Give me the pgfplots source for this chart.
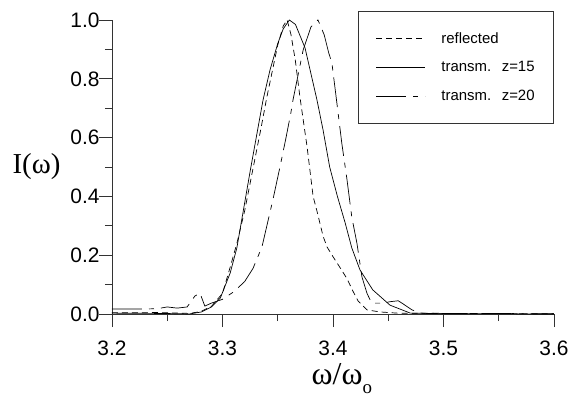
\documentclass[border=0pt]{standalone}
\usepackage{fontspec}
\setmainfont{Liberation Sans}
\newfontfamily\serif{Liberation Serif}
\usepackage{pgfplots}
\pgfplotsset{compat=1.18}
\begin{document}
\begin{tikzpicture}[x=1bp,y=1bp]
\begin{axis}[
  at={(0bp,0bp)}, anchor=south west,
  scale only axis, width=442bp, height=294bp,
  xmin=3.2, xmax=3.6, ymin=0, ymax=1.0,
  axis x line*=bottom, axis y line*=left,
  axis line style={line width=0.8bp, black!80},
  tick align=outside,
  major tick length=13bp, minor tick length=7bp,
  every tick/.style={line width=0.8bp, black!80},
  xtick={3.2,3.3,3.4,3.5,3.6}, ytick={0,0.2,0.4,0.6,0.8,1.0},
  minor x tick num=1, minor y tick num=1,
  /pgf/number format/assume math mode=true,
  /pgf/number format/.cd, fixed, fixed zerofill, precision=1, /pgfplots/.cd,
  tick label style={font=\fontsize{21}{23}\selectfont},
  yticklabel style={anchor=east, xshift=4bp},
  xticklabel style={anchor=north, yshift=-12bp, inner sep=2bp},
  xlabel={\serif ω/ω\raisebox{-0.3em}{\fontsize{19}{20}\selectfont o}},
  ylabel={\serif I(ω)},
  x label style={font=\fontsize{32}{34}\selectfont, inner sep=0pt, at={(axis description cs:0.52,0)}, anchor=north, yshift=-49bp},
  y label style={font=\fontsize{29}{32}\selectfont, rotate=-90, at={(axis description cs:0,0.5)}, anchor=west, xshift=-103bp},
  legend style={at={(axis description cs:1,1)}, anchor=north east, yshift=9bp,
    draw=black!80, line width=0.8bp, font=\fontsize{15}{17}\selectfont,
    inner xsep=17bp, inner ysep=19bp, row sep=13bp, column sep=14bp},
  legend cell align=left,
  legend image code/.code={\draw[#1, line width=0.7bp] (0bp,0bp) -- (49bp,0bp);},
]
\addplot[black, line width=0.7bp, dash pattern=on 6bp off 4bp] coordinates {
(3.200,0.004) (3.220,0.004) (3.240,0.005) (3.260,0.003) (3.270,0.002)
(3.280,0.008) (3.290,0.026) (3.300,0.070) (3.307,0.160) (3.313,0.240)
(3.320,0.350) (3.325,0.445) (3.330,0.540) (3.335,0.635) (3.340,0.735)
(3.345,0.825) (3.350,0.915) (3.355,0.980) (3.3585,1.000) (3.362,0.950)
(3.366,0.860) (3.370,0.740) (3.3765,0.570) (3.382,0.400) (3.3855,0.350)
(3.391,0.265) (3.3946,0.228) (3.400,0.195) (3.406,0.160) (3.4127,0.120)
(3.418,0.078) (3.4226,0.045) (3.4308,0.014) (3.4425,0.007) (3.458,0.003)
(3.500,0.002) (3.600,0.001)};
\addlegendentry{reflected}
\addplot[black, line width=0.7bp] coordinates {
(3.200,0.003) (3.240,0.002) (3.260,0.001) (3.270,0.000) (3.281,0.007)
(3.290,0.024) (3.298,0.054) (3.307,0.140) (3.313,0.225) (3.319,0.355)
(3.325,0.485) (3.331,0.610) (3.3367,0.728) (3.343,0.830) (3.350,0.920)
(3.355,0.970) (3.3605,1.000) (3.366,0.985) (3.3747,0.905) (3.3855,0.728)
(3.391,0.626) (3.397,0.500) (3.404,0.400) (3.411,0.310) (3.417,0.225)
(3.4244,0.150) (3.436,0.082) (3.4516,0.030) (3.470,0.003) (3.500,0.001)
(3.600,0.000)};
\addlegendentry{transm.\hspace{5bp} z=15}
\addplot[black, line width=0.7bp, dash pattern=on 30bp off 7bp on 5bp off 7bp] coordinates {
(3.200,0.017) (3.230,0.017) (3.241,0.018) (3.250,0.024) (3.259,0.020)
(3.268,0.024) (3.275,0.061) (3.2796,0.071) (3.284,0.027) (3.290,0.037)
(3.296,0.045) (3.300,0.050) (3.310,0.075) (3.320,0.110) (3.3276,0.155)
(3.3357,0.228) (3.3457,0.390) (3.352,0.500) (3.3575,0.600) (3.362,0.687)
(3.3638,0.728) (3.373,0.898) (3.380,0.976) (3.3864,1.000) (3.392,0.950)
(3.396,0.890) (3.399,0.854) (3.4036,0.715) (3.408,0.580) (3.4127,0.456)
(3.417,0.330) (3.4217,0.240) (3.4262,0.126) (3.4308,0.070) (3.435,0.037)
(3.445,0.037) (3.452,0.042) (3.459,0.045) (3.4624,0.037) (3.4715,0.014)
(3.480,0.003) (3.500,0.002) (3.600,0.001)};
\addlegendentry{transm.\hspace{5bp} z=20}
\end{axis}
\pgfresetboundingbox
\path[use as bounding box] (-112bp,-83bp) rectangle (459bp,314bp);
\end{tikzpicture}
\end{document}
